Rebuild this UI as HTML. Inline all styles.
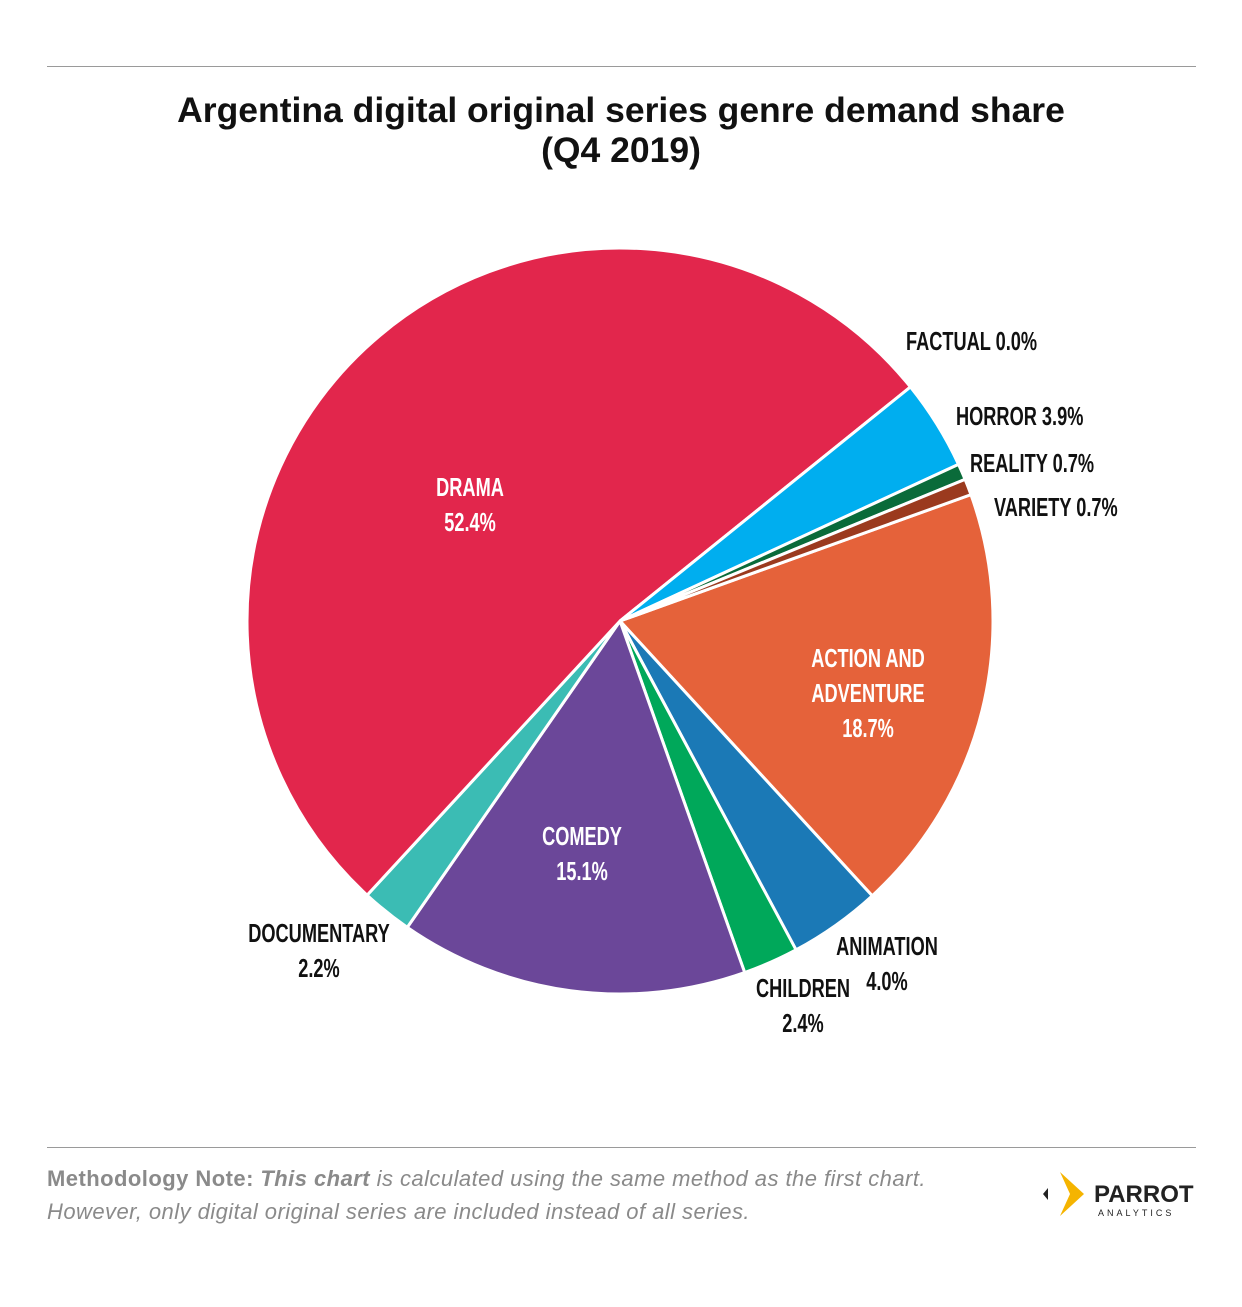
<!DOCTYPE html>
<html><head><meta charset="utf-8"><style>
body{margin:0;background:#fff;width:1242px;height:1307px;overflow:hidden;font-family:"Liberation Sans",sans-serif;}
.hr{position:absolute;left:47px;width:1149px;height:1px;background:#9a9a9a;}
#title{position:absolute;left:0;width:1242px;top:90px;text-align:center;font-weight:bold;font-size:35.5px;line-height:40px;color:#111;}
#note{position:absolute;left:47px;top:1162px;font-size:22px;line-height:33px;color:#8a8a8a;font-style:italic;letter-spacing:0.45px;}
#note b{font-style:normal;}
</style></head><body>
<div class="hr" style="top:66px"></div>
<div id="title">Argentina digital original series genre demand share<br>(Q4 2019)</div>
<svg id="chart" width="1242" height="1307" style="position:absolute;left:0;top:0"></svg>
<div class="hr" style="top:1147px"></div>
<div id="note"><b>Methodology Note:</b> <b style="font-style:italic">This chart</b> is calculated using the same method as the first chart.<br>However, only digital original series are included instead of all series.</div>
<div style="position:absolute;left:1040px;top:1170px;width:160px;height:50px;">
<svg width="160" height="50"><polygon points="8,18 3,24 8,30" fill="#222"/><polygon points="20,2 44,24 20,46 30,24" fill="#f5b400"/>
<text x="54" y="32" font-family="Liberation Sans" font-size="24" font-weight="bold" fill="#222">PARROT</text>
<text x="58" y="46" font-family="Liberation Sans" font-size="9" letter-spacing="3" fill="#222">ANALYTICS</text></svg></div>
<script>
const categories=["ACTION AND ADVENTURE","ANIMATION","CHILDREN","COMEDY","DOCUMENTARY","DRAMA","FACTUAL","HORROR","REALITY","VARIETY"];
const values=[18.7,4.0,2.4,15.1,2.2,52.4,0.0,3.9,0.7,0.7];
const colors=["#e5623a","#1b79b6","#00a85a","#6b4799","#3bbcb4","#e2264c","#888","#00aeef","#0a6b3a","#9b3a1e"];
const labelLines=[["ACTION AND","ADVENTURE","18.7%"],["ANIMATION","4.0%"],["CHILDREN","2.4%"],["COMEDY","15.1%"],["DOCUMENTARY","2.2%"],["DRAMA","52.4%"],["FACTUAL 0.0%"],["HORROR 3.9%"],["REALITY 0.7%"],["VARIETY 0.7%"]];
const labelPos=[[868,667,"#fff","middle"],[887,955,"#111","middle"],[803,997,"#111","middle"],[582,845,"#fff","middle"],[319,942,"#111","middle"],[470,496,"#fff","middle"],[906,350,"#111","start"],[956,425,"#111","start"],[970,472,"#111","start"],[994,516,"#111","start"]];
const svg=document.getElementById('chart');const NS="http://www.w3.org/2000/svg";
const cx=620,cy=621,R=373,start=-19.8;
const total=values.reduce((a,b)=>a+b,0);
function pt(deg,r){const a=deg*Math.PI/180;return [cx+r*Math.cos(a),cy+r*Math.sin(a)];}
let ang=start;
values.forEach((v,i)=>{const sweep=v/total*360;if(sweep>0){const p0=pt(ang,R),p1=pt(ang+sweep,R);
const p=document.createElementNS(NS,'path');
p.setAttribute('d',`M${cx},${cy}L${p0[0]},${p0[1]}A${R},${R} 0 ${sweep>180?1:0} 1 ${p1[0]},${p1[1]}Z`);
p.setAttribute('fill',colors[i]);p.setAttribute('stroke','#fff');p.setAttribute('stroke-width','3');


svg.appendChild(p);}ang+=sweep;});
labelLines.forEach((lines,i)=>{const [x,y,c,anc]=labelPos[i];
const t=document.createElementNS(NS,'text');


t.setAttribute('font-family','"Liberation Sans Narrow","Liberation Sans",sans-serif');
t.setAttribute('font-weight','bold');t.setAttribute('font-size','26');t.setAttribute('fill',c);t.setAttribute('text-anchor',anc);
t.setAttribute('transform',`translate(${x},${y}) scale(0.7,1)`);
lines.forEach((l,j)=>{const s=document.createElementNS(NS,'tspan');s.setAttribute('x',0);s.setAttribute('y',j*35);s.textContent=l;t.appendChild(s);});
svg.appendChild(t);});
</script>
</body></html>
